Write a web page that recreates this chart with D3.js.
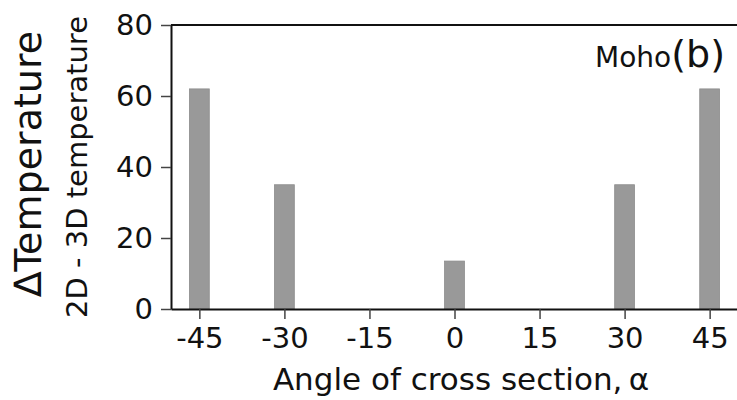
<!DOCTYPE html>
<html>
<head>
<meta charset="utf-8">
<script src="https://cdn.jsdelivr.net/npm/d3@7"></script>
<style>
  body { margin: 0; background: #fff; }
  svg { display: block; font-family: "DejaVu Sans", sans-serif; }
</style>
</head>
<body>
<svg id="chart" width="737" height="400"></svg>
<script>
// angle of cross section (degrees) and temperature difference
const angles = [-45, -30, 0, 30, 45];
const deltaT = [62, 35, 13.5, 35, 62];
const xTicks = [-45, -30, -15, 0, 15, 30, 45];
const yTicks = [0, 20, 40, 60, 80];

const svg = d3.select('#chart');
const margin = { left: 171, right: -1, top: 25, bottom: 91 };
const W = 737, H = 400;

const x = d3.scaleLinear().domain([-50, 50]).range([margin.left, W - margin.right]);
const y = d3.scaleLinear().domain([0, 80]).range([H - margin.bottom, margin.top]);
const barW = x(1.75) - x(-1.75);

// bars
svg.append('g')
  .selectAll('rect')
  .data(angles)
  .join('rect')
  .attr('x', (d) => x(d) - barW / 2)
  .attr('y', (d, i) => y(deltaT[i]))
  .attr('width', barW)
  .attr('height', (d, i) => y(0) - y(deltaT[i]))
  .attr('fill', '#999999')
  .attr('stroke', '#8c8c8c')
  .attr('stroke-width', 0.8);

// axes
const xAxis = svg.append('g')
  .attr('transform', `translate(0,${y(0)})`)
  .call(d3.axisBottom(x).tickValues(xTicks).tickSize(10).tickSizeOuter(0));
const yAxis = svg.append('g')
  .attr('transform', `translate(${x(-50)},0)`)
  .call(d3.axisLeft(y).tickValues(yTicks).tickSize(10).tickPadding(8).tickSizeOuter(0));

[xAxis, yAxis].forEach((g) => {
  g.select('.domain').attr('stroke', '#111').attr('stroke-width', 2);
  g.selectAll('.tick line').attr('stroke', '#444').attr('stroke-width', 1.5);
  g.selectAll('.tick text')
    .attr('fill', '#111')
    .style('font-size', '29px')
    .style('font-family', '"DejaVu Sans", sans-serif');
});
xAxis.selectAll('.tick text')
  .attr('dy', null)
  .attr('y', 39)
  .text((d) => String(d).replace('\u2212', '-'));

// top spine
svg.append('line')
  .attr('x1', x(-50)).attr('x2', W)
  .attr('y1', y(80)).attr('y2', y(80))
  .attr('stroke', '#111').attr('stroke-width', 2);

// panel label
const lab = svg.append('text')
  .attr('x', 725).attr('y', 67)
  .attr('text-anchor', 'end')
  .attr('fill', '#111');
lab.append('tspan').style('font-size', '28px').text('Moho');
lab.append('tspan').style('font-size', '38px').text('(b)');

// x title
svg.append('text')
  .attr('x', 461).attr('y', 390)
  .attr('text-anchor', 'middle')
  .attr('fill', '#111')
  .style('font-size', '31px')
  .text('Angle of cross section,\u2009\u03b1');

// y titles
svg.append('text')
  .attr('transform', 'translate(41,164) rotate(-90)')
  .attr('text-anchor', 'middle')
  .attr('fill', '#111')
  .style('font-size', '38px')
  .text('\u2206Temperature');
svg.append('text')
  .attr('transform', 'translate(87,167) rotate(-90)')
  .attr('text-anchor', 'middle')
  .attr('fill', '#111')
  .style('font-size', '29px')
  .text('2D - 3D temperature');
</script>
</body>
</html>
